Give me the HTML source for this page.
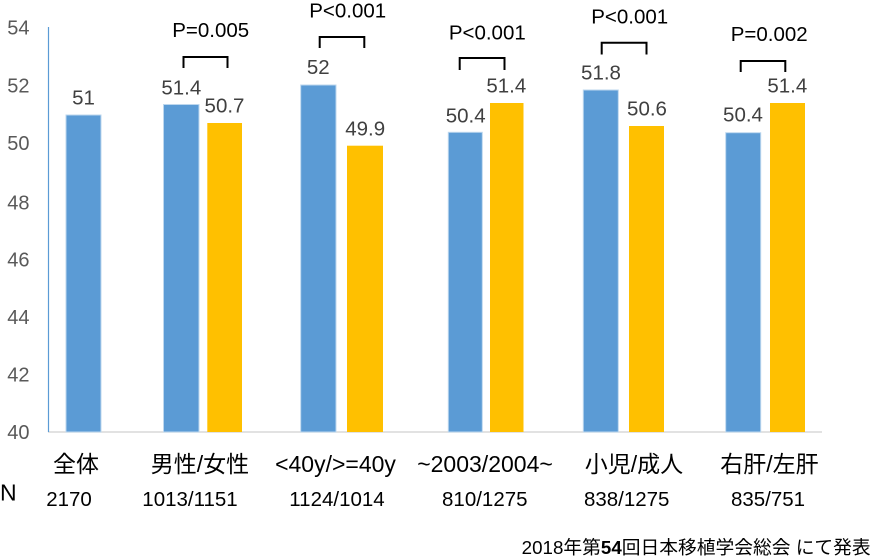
<!DOCTYPE html>
<html>
<head>
<meta charset="utf-8">
<style>
  html,body{margin:0;padding:0;background:#fff;}
  svg{display:block;}
  .tick{font-family:"Liberation Sans",sans-serif;font-size:20px;fill:#595959;text-anchor:end;}
  .val{font-family:"Liberation Sans",sans-serif;font-size:20.5px;fill:#404040;text-anchor:middle;}
  .p{font-family:"Liberation Sans",sans-serif;font-size:20.5px;fill:#000;text-anchor:middle;}
  .cat{font-family:"Liberation Sans","Noto Sans CJK JP",sans-serif;font-size:23px;fill:#000;text-anchor:middle;}
  .n{font-family:"Liberation Sans",sans-serif;font-size:20.5px;fill:#000;text-anchor:middle;}
  .foot{font-family:"Liberation Sans","Noto Sans CJK JP",sans-serif;font-size:18.5px;fill:#000;}
  .b{fill:#5B9BD5;stroke:#BDD7EE;stroke-width:1;}
  .o{fill:#FFC000;}
  .br{fill:none;stroke:#000;stroke-width:2;}
</style>
</head>
<body>
<svg width="872" height="556" viewBox="0 0 872 556" xmlns="http://www.w3.org/2000/svg">
  <!-- y tick labels -->
  <text class="tick" x="29.5" y="34.5">54</text>
  <text class="tick" x="29.5" y="92.5">52</text>
  <text class="tick" x="29.5" y="150">50</text>
  <text class="tick" x="29.5" y="209.5">48</text>
  <text class="tick" x="29.5" y="266.5">46</text>
  <text class="tick" x="29.5" y="324">44</text>
  <text class="tick" x="29.5" y="381.5">42</text>
  <text class="tick" x="29.5" y="439">40</text>

  <!-- baseline -->
  <line x1="48" y1="432" x2="822" y2="432" stroke="#D9D9D9" stroke-width="1.5"/>
  <!-- y axis line -->
  <line x1="48.5" y1="27" x2="48.5" y2="432" stroke="#5B9BD5" stroke-width="1.2"/>

  <!-- bars -->
  <rect class="b" x="66" y="115" width="35" height="317"/>

  <rect class="b" x="163.5" y="104.5" width="35.5" height="327.5"/>
  <rect class="o" x="207.3" y="123" width="34.7" height="309"/>

  <rect class="b" x="300.7" y="85" width="35.3" height="347"/>
  <rect class="o" x="347" y="145.7" width="36" height="286.3"/>

  <rect class="b" x="448.3" y="132.3" width="34" height="299.7"/>
  <rect class="o" x="490" y="103" width="33.5" height="329"/>

  <rect class="b" x="583.3" y="90" width="35" height="342"/>
  <rect class="o" x="629" y="126" width="35" height="306"/>

  <rect class="b" x="725.7" y="132.7" width="35" height="299.3"/>
  <rect class="o" x="770" y="103" width="35" height="329"/>

  <!-- value labels -->
  <text class="val" x="83.5" y="104.5">51</text>
  <text class="val" x="181.3" y="94.3">51.4</text>
  <text class="val" x="224.5" y="112.7">50.7</text>
  <text class="val" x="318.3" y="74">52</text>
  <text class="val" x="365.2" y="135.7">49.9</text>
  <text class="val" x="465.7" y="122.3">50.4</text>
  <text class="val" x="506.3" y="92.7">51.4</text>
  <text class="val" x="601" y="79.3">51.8</text>
  <text class="val" x="647" y="115.7">50.6</text>
  <text class="val" x="743" y="121.7">50.4</text>
  <text class="val" x="787.3" y="92.7">51.4</text>

  <!-- brackets -->
  <path class="br" d="M183.5 68 V57 H227.5 V68"/>
  <path class="br" d="M319.7 48 V37 H364.3 V48"/>
  <path class="br" d="M459.7 70 V58 H504.5 V70"/>
  <path class="br" d="M601.7 54.5 V42.7 H646.5 V54.5"/>
  <path class="br" d="M740.7 72 V61 H785.3 V72"/>

  <!-- p labels -->
  <text class="p" x="210.7" y="37">P=0.005</text>
  <text class="p" x="347.7" y="17.3">P&lt;0.001</text>
  <text class="p" x="487.3" y="39.3">P&lt;0.001</text>
  <text class="p" x="629.7" y="23.3">P&lt;0.001</text>
  <text class="p" x="769.2" y="41">P=0.002</text>

  <!-- category labels -->
  <text class="cat" x="76" y="472">全体</text>
  <text class="cat" x="200" y="472">男性/女性</text>
  <text class="cat" x="335.5" y="472">&lt;40y/&gt;=40y</text>
  <text class="cat" x="485" y="472">~2003/2004~</text>
  <text class="cat" x="634" y="472">小児/成人</text>
  <text class="cat" x="769.5" y="472">右肝/左肝</text>

  <!-- N row -->
  <text x="0" y="500.7" style="font-family:'Liberation Sans',sans-serif;font-size:23px;fill:#000;">N</text>
  <text class="n" x="69" y="506">2170</text>
  <text class="n" x="190" y="506">1013/1151</text>
  <text class="n" x="337" y="506">1124/1014</text>
  <text class="n" x="484.8" y="506">810/1275</text>
  <text class="n" x="626.7" y="506">838/1275</text>
  <text class="n" x="768" y="506">835/751</text>

  <!-- footer -->
  <text class="foot" x="521.7" y="554" textLength="349" lengthAdjust="spacingAndGlyphs">2018年第<tspan font-weight="bold">54</tspan>回日本移植学会総会 にて発表</text>
</svg>
</body>
</html>
